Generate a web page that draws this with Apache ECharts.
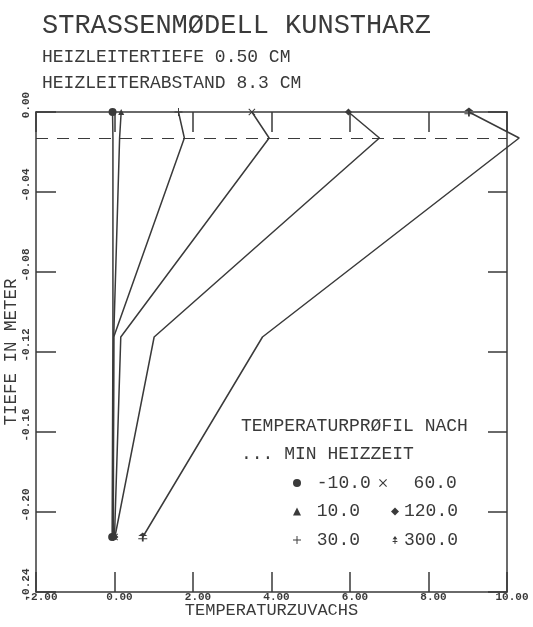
<!DOCTYPE html>
<html><head><meta charset="utf-8">
<script src="https://cdn.jsdelivr.net/npm/echarts@6/dist/echarts.min.js"></script>
<style>html,body{margin:0;padding:0;background:#fff}#c{width:533px;height:627px}</style>
</head><body><div id="c"></div>
<script>
// ---- data ----
const depths = [0, -0.013, -0.1125, -0.2125];           // Tiefe in Meter (y)
const heaterDepth = -0.013;                              // dashed line
const seriesNames = ['-10.0', '10.0', '30.0', '60.0', '120.0', '300.0'];
const valsM10 = [-0.05, -0.04, -0.04, -0.06];
const vals10  = [0.17, 0.13, -0.02, -0.04];
const vals30  = [1.63, 1.78, -0.02, -0.03];
const vals60  = [3.50, 3.94, 0.16, 0.00];
const vals120 = [5.96, 6.75, 1.01, 0.01];
const vals300 = [9.03, 10.31, 3.77, 0.72];
const xTickValues = [-2, 0, 2, 4, 6, 8, 10];
const yTickValues = [0, -0.04, -0.08, -0.12, -0.16, -0.20, -0.24];

const titleText = 'STRASSENMØDELL KUNSTHARZ';
const sub1Text = 'HEIZLEITERTIEFE 0.50 CM';
const sub2Text = 'HEIZLEITERABSTAND 8.3 CM';
const legendHead1 = 'TEMPERATURPRØFIL NACH';
const legendHead2 = '... MIN HEIZZEIT';
const xName = 'TEMPERATURZUVACHS';
const yName = 'TIEFE IN METER';

// ---- layout / styling ----
const W = 533, H = 627;
const G = { left: 36, right: 26, top: 112, bottom: 35 };
const xMin = xTickValues[0], xMax = xTickValues[xTickValues.length - 1];
const xStep = xTickValues[1] - xTickValues[0];
const yMin = yTickValues[yTickValues.length - 1], yMax = yTickValues[0];
const yStep = yTickValues[0] - yTickValues[1];
// an invisible wider twin grid with the same scale, so the 300-min line may run past x = 10
const xMaxWide = 10.6;
const plotW = W - G.left - G.right;
const wideRight = W - G.left - plotW * (xMaxWide - xMin) / (xMax - xMin);

const INK = '#3a3a3a';
const FONT = 'Liberation Mono';
const plusPath = 'path://M4.4,0L5.6,0L5.6,4.4L10,4.4L10,5.6L5.6,5.6L5.6,10L4.4,10L4.4,5.6L0,5.6L0,4.4L4.4,4.4Z';
const crossPath = 'path://M1,0L5,4L9,0L10,1L6,5L10,9L9,10L5,6L1,10L0,9L4,5L0,1Z';
const arrowPath = 'path://M5,0L8,4L2,4ZM4.4,4L5.6,4L5.6,10L4.4,10ZM2,6.4L8,6.4L8,7.6L2,7.6Z';
const symbols = ['circle', 'triangle', plusPath, crossPath, 'diamond', arrowPath];
const symSizes = [8, 6, 8, 7, 7, 9];
const allVals = [valsM10, vals10, vals30, vals60, vals120, vals300];

const series = allVals.map((vals, i) => {
  const wide = i === 5;
  return {
    name: seriesNames[i],
    type: 'line',
    xAxisIndex: wide ? 2 : 0,
    yAxisIndex: wide ? 2 : 0,
    data: vals.map((v, k) => [v, depths[k]]),
    symbol: symbols[i],
    symbolSize: (val, p) => (p.dataIndex === 0 || p.dataIndex === vals.length - 1) ? symSizes[i] : 0,
    clip: false,
    lineStyle: { color: INK, width: 1.5 },
    itemStyle: { color: INK },
    emphasis: { disabled: true },
    z: 3,
    markLine: i === 0 ? {
      silent: true, symbol: ['none', 'none'], label: { show: false }, precision: 6,
      lineStyle: { color: INK, width: 1, type: [12, 9] },
      data: [{ yAxis: heaterDepth }]
    } : undefined
  };
});

const legendText = { fontFamily: FONT, fontSize: 18, color: INK, lineHeight: 18 };
const legendCommon = {
  orient: 'vertical', itemWidth: 8, itemHeight: 8, itemGap: 10.5, padding: 0,
  selectedMode: false, textStyle: legendText, inactiveColor: INK
};
const tStyle = (size) => ({ fontFamily: FONT, fontSize: size, fontWeight: 'normal', color: INK, lineHeight: size });

const axisFont = { fontFamily: FONT, fontSize: 11, fontWeight: 'bold', color: INK };
const lineSt = { color: INK, width: 1.5 };
const hiddenAxis = { show: false, axisLine: { show: false }, axisTick: { show: false }, axisLabel: { show: false }, splitLine: { show: false } };

const option = {
  animation: false,
  backgroundColor: '#fff',
  title: [
    { text: titleText, left: 42, top: 12, padding: 0, textStyle: tStyle(27) },
    { text: sub1Text, left: 42, top: 48, padding: 0, textStyle: tStyle(18) },
    { text: sub2Text, left: 42, top: 74, padding: 0, textStyle: tStyle(18) },
    { text: legendHead1, left: 241, top: 417, padding: 0, textStyle: tStyle(18) },
    { text: legendHead2, left: 241, top: 445, padding: 0, textStyle: tStyle(18) }
  ],
  legend: [
    Object.assign({}, legendCommon, { left: 293, top: 474, formatter: n => ' ' + n,
      data: [0, 1, 2].map(i => ({ name: seriesNames[i], icon: symbols[i] })) }),
    Object.assign({}, legendCommon, { left: 379, top: 474, formatter: n => '  ' + n,
      data: [3].map(i => ({ name: seriesNames[i], icon: symbols[i] })) }),
    Object.assign({}, legendCommon, { left: 391, top: 502.5, formatter: n => n,
      data: [4, 5].map(i => ({ name: seriesNames[i], icon: symbols[i] })) })
  ],
  grid: [
    { left: G.left, right: G.right, top: G.top, bottom: G.bottom, containLabel: false, outerBoundsMode: 'none' },
    { left: G.left, right: wideRight, top: G.top, bottom: G.bottom, containLabel: false, outerBoundsMode: 'none', show: false }
  ],
  xAxis: [
    { type: 'value', gridIndex: 0, position: 'bottom', min: xMin, max: xMax, interval: xStep,
      name: xName, nameLocation: 'middle', nameGap: 10, nameMoveOverlap: false,
      nameTextStyle: { fontFamily: FONT, fontSize: 17, color: INK },
      axisLine: { show: true, onZero: false, lineStyle: lineSt },
      axisTick: { show: true, inside: true, length: 20, lineStyle: lineSt },
      axisLabel: { show: true, margin: 0, formatter: v => v.toFixed(2), padding: [0, 0, 0, 10], ...axisFont },
      splitLine: { show: false } },
    { type: 'value', gridIndex: 0, position: 'top', min: xMin, max: xMax, interval: xStep,
      axisLine: { show: true, onZero: false, lineStyle: lineSt },
      axisTick: { show: true, inside: true, length: 20, lineStyle: lineSt },
      axisLabel: { show: false }, splitLine: { show: false } },
    Object.assign({ type: 'value', gridIndex: 1, min: xMin, max: xMaxWide }, hiddenAxis)
  ],
  yAxis: [
    { type: 'value', gridIndex: 0, position: 'left', min: yMin, max: yMax, interval: yStep,
      name: yName, nameLocation: 'middle', nameGap: 16, nameRotate: 90, nameMoveOverlap: false,
      nameTextStyle: { fontFamily: FONT, fontSize: 17.5, color: INK },
      axisLine: { show: true, onZero: false, lineStyle: lineSt },
      axisTick: { show: true, inside: true, length: 20, lineStyle: lineSt },
      axisLabel: { show: true, rotate: 90, margin: 10, align: 'center', verticalAlign: 'middle',
        padding: [0, 0, 0, 14], formatter: v => v.toFixed(2), ...axisFont },
      splitLine: { show: false } },
    { type: 'value', gridIndex: 0, position: 'right', min: yMin, max: yMax, interval: yStep,
      axisLine: { show: true, onZero: false, lineStyle: lineSt },
      axisTick: { show: true, inside: true, length: 19, lineStyle: lineSt },
      axisLabel: { show: false }, splitLine: { show: false } },
    Object.assign({ type: 'value', gridIndex: 1, min: yMin, max: yMax }, hiddenAxis)
  ],
  series: series
};

const chart = echarts.init(document.getElementById('c'), null, { renderer: 'canvas' });
chart.setOption(option);
</script>
</body></html>
